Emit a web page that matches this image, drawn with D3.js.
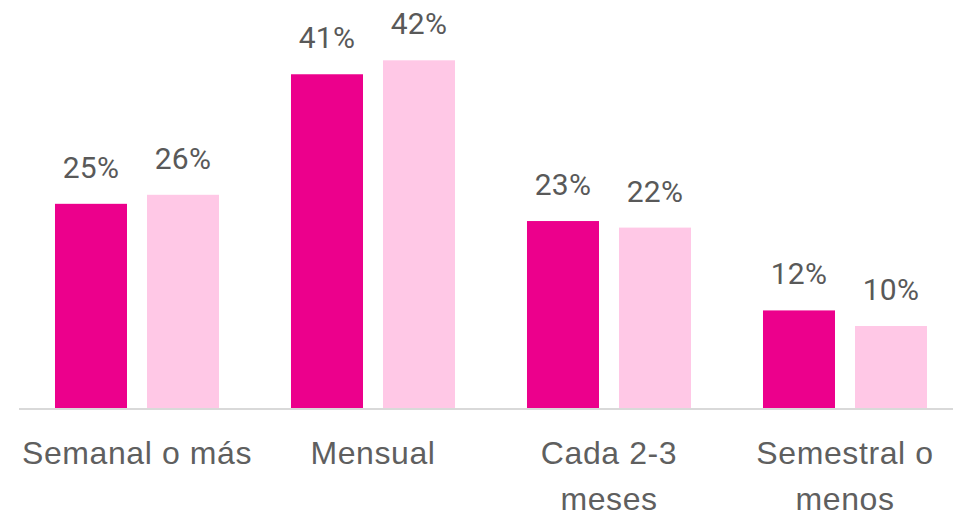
<!DOCTYPE html>
<html>
<head>
<meta charset="utf-8">
<script src="https://cdn.jsdelivr.net/npm/d3@7"></script>
<style>
  html, body { margin: 0; padding: 0; background: #fff; }
  svg { display: block; font-family: Roboto, "Noto Sans", sans-serif; }
</style>
</head>
<body>
<svg id="chart" width="953" height="516"></svg>
<script>
// ── Données ─────────────────────────────────────────────
const categories = ['Semanal o más', 'Mensual', 'Cada 2-3 meses', 'Semestral o menos'];
const seriesNames = ['A', 'B'];
const seriesA = [24.9, 40.7, 22.8, 11.9];
const seriesB = [26.0, 42.4, 22.0, 10.0];
const seriesColors = ['#ec008c', '#ffc8e6'];

// ── Mise en page ────────────────────────────────────────
const W = 953, H = 516;
const baseY = 408;

const svg = d3.select('#chart');

const x = d3.scaleBand()
  .domain(categories)
  .range([19, 963])
  .paddingInner(0.305)
  .paddingOuter(0.1525);

const xSub = d3.scaleBand()
  .domain(seriesNames)
  .range([0, x.bandwidth()])
  .paddingInner(0.2174);

const y = d3.scaleLinear()
  .domain([0, 50])
  .range([baseY, baseY - 410]);

const rows = categories.map((c, i) => ({
  cat: c,
  vals: [seriesA[i], seriesB[i]]
}));

// barres
const groups = svg.selectAll('g.grp')
  .data(rows)
  .join('g')
  .attr('class', 'grp')
  .attr('transform', d => `translate(${x(d.cat)},0)`);

groups.selectAll('rect')
  .data(d => d.vals.map((v, j) => ({ v, s: seriesNames[j], j })))
  .join('rect')
  .attr('x', d => xSub(d.s))
  .attr('y', d => y(d.v))
  .attr('width', xSub.bandwidth())
  .attr('height', d => y(0) - y(d.v))
  .attr('fill', d => seriesColors[d.j]);

// étiquettes de valeurs
groups.selectAll('text.val')
  .data(d => d.vals.map((v, j) => ({ v, s: seriesNames[j] })))
  .join('text')
  .attr('class', 'val')
  .attr('x', d => xSub(d.s) + xSub.bandwidth() / 2)
  .attr('y', d => y(d.v) - 26)
  .attr('text-anchor', 'middle')
  .attr('fill', '#595959')
  .style('font-size', '30px')
  .style('letter-spacing', '0.3px')
  .text(d => `${Math.round(d.v)}%`);

// axe horizontal
const xAxis = svg.append('g')
  .attr('transform', `translate(0,${baseY + 1})`)
  .call(d3.axisBottom(x).tickSize(0).tickPadding(0).tickFormat(''));
xAxis.select('.domain')
  .attr('d', `M19,0H${W}`)
  .attr('stroke', '#d9d9d9')
  .attr('stroke-width', 2);

// libellés de catégories (retour à la ligne selon la largeur du pas)
const maxW = x.step();
xAxis.selectAll('.tick').each(function(d) {
  const g = d3.select(this);
  g.select('text').remove();
  const t = g.append('text')
    .attr('text-anchor', 'middle')
    .attr('fill', '#5f5f5f')
    .style('font-size', '32px')
    .style('letter-spacing', '0.6px');
  const words = d.split(' ');
  let lines = [];
  let line = [];
  const probe = t.append('tspan');
  for (const w of words) {
    const test = line.concat(w).join(' ');
    probe.text(test);
    if (probe.node().getComputedTextLength() > maxW && line.length) {
      lines.push(line.join(' '));
      line = [w];
    } else {
      line.push(w);
    }
  }
  lines.push(line.join(' '));
  probe.remove();
  lines.forEach((l, i) => {
    t.append('tspan')
      .attr('x', 0)
      .attr('y', 55 + i * 46)
      .text(l);
  });
});
</script>
</body>
</html>
